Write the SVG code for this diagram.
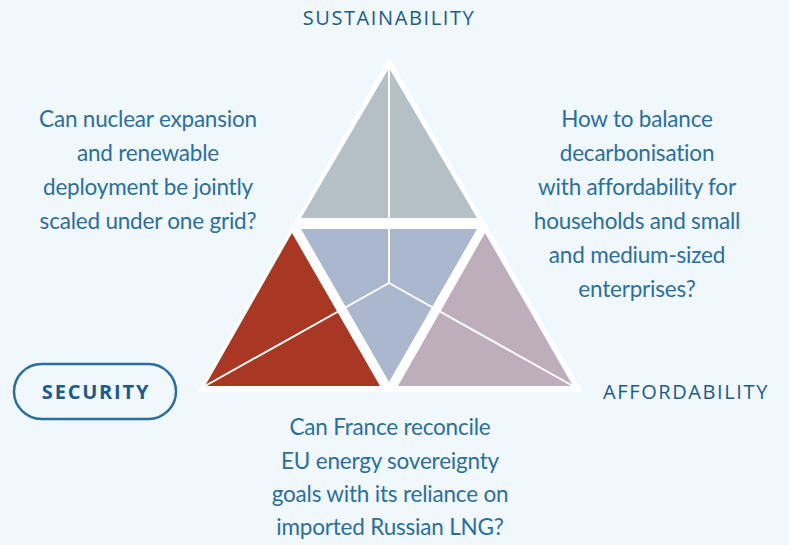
<svg xmlns="http://www.w3.org/2000/svg" width="789" height="545" viewBox="0 0 789 545">
<style>
.q{font-family:Lato,"Liberation Sans",sans-serif;font-size:22.5px;fill:#2B6F9C;text-anchor:middle;letter-spacing:-0.2px}
.h{font-family:"Open Sans","Liberation Sans",sans-serif;font-size:20px;fill:#1B5C88;text-anchor:middle;letter-spacing:1.6px}
.sep{stroke:#FFFFFF;stroke-width:2;fill:none}
</style>
<rect width="789" height="545" fill="#F0F7FD"/>
<g id="triangle">
<polygon points="389,57 197,392 583,392" fill="#FFFFFF"/>
<polygon points="389,68 301,218 477,218" fill="#B5C0C6"/>
<polygon points="301,229 477,229 389,382" fill="#ABB7CE"/>
<polygon points="292,233 205,386 380,386" fill="#A83824"/>
<polygon points="485,233 398,386 573,386" fill="#BEADBB"/>
</g>
<g id="connectors">
<line class="sep" x1="389" y1="68" x2="389" y2="283"/>
<line class="sep" x1="389" y1="283" x2="205" y2="386"/>
<line class="sep" x1="389" y1="283" x2="573" y2="386"/>
</g>
<g id="sustainability"><text class="h" x="389" y="25">SUSTAINABILITY</text></g>
<g id="affordability"><text class="h" x="686" y="399">AFFORDABILITY</text></g>
<g id="security">
<rect x="14" y="364" width="162" height="55" rx="27.5" fill="#F0F7FD" stroke="#2B6F9C" stroke-width="2.5"/>
<text class="h" x="96" y="399" style="font-weight:bold;letter-spacing:1.8px">SECURITY</text>
</g>
<g id="q-left">
<text class="q" x="148" y="127">Can nuclear expansion</text>
<text class="q" x="148" y="161">and renewable</text>
<text class="q" x="148" y="195">deployment be jointly</text>
<text class="q" x="148" y="229">scaled under one grid?</text>
</g>
<g id="q-right">
<text class="q" x="637" y="127">How to balance</text>
<text class="q" x="637" y="161">decarbonisation</text>
<text class="q" x="637" y="195">with affordability for</text>
<text class="q" x="637" y="229">households and small</text>
<text class="q" x="637" y="263">and medium-sized</text>
<text class="q" x="637" y="297">enterprises?</text>
</g>
<g id="q-bottom">
<text class="q" x="390" y="435">Can France reconcile</text>
<text class="q" x="390" y="469">EU energy sovereignty</text>
<text class="q" x="390" y="502">goals with its reliance on</text>
<text class="q" x="390" y="535">imported Russian LNG?</text>
</g>
</svg>
